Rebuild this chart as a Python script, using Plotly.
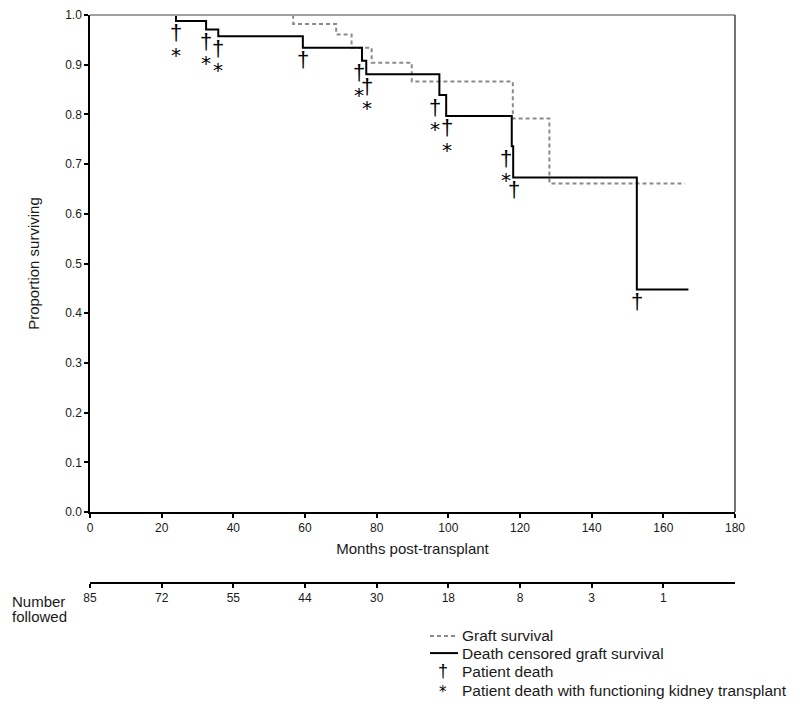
import plotly.graph_objects as go

# ---------------- data ----------------
# Death censored graft survival (solid)
dc_months = [0, 24.0, 32.4, 35.8, 59.4, 75.9, 77.1, 97.5, 99.4, 117.7, 118.1, 152.6, 167.0]
dc_surv = [1.0, 0.988, 0.971, 0.957, 0.934, 0.908, 0.881, 0.839, 0.797, 0.736, 0.673, 0.448, 0.448]

# Graft survival (dashed)
gs_months = [0, 56.7, 68.7, 73.0, 78.6, 89.8, 118.0, 128.2, 166.0]
gs_surv = [1.0, 0.982, 0.961, 0.934, 0.904, 0.866, 0.792, 0.661, 0.661]

# Patient deaths (dagger) and whether with functioning kidney transplant (asterisk)
death_months = [24.1, 32.4, 35.8, 59.4, 75.1, 77.4, 96.4, 99.5, 116.1, 118.2, 152.6]
death_level = [0.988, 0.971, 0.957, 0.934, 0.908, 0.881, 0.839, 0.797, 0.736, 0.673, 0.448]
death_functioning = [True, True, True, False, True, True, True, True, True, False, False]

# Numbers at risk
risk_months = [0, 20, 40, 60, 80, 100, 120, 140, 160]
risk_numbers = ["85", "72", "55", "44", "30", "18", "8", "3", "1"]

x_ticks = [0, 20, 40, 60, 80, 100, 120, 140, 160, 180]
y_ticks = [0.0, 0.1, 0.2, 0.3, 0.4, 0.5, 0.6, 0.7, 0.8, 0.9, 1.0]

legend_labels = ["Graft survival", "Death censored graft survival",
                 "Patient death", "Patient death with functioning kidney transplant"]

# ---------------- layout helpers ----------------
W, H = 800, 709


def fx(px):
    # page pixel -> figure pixel (page body offset)
    return px - 8


def fy(py):
    return (py - 8) / 0.99


ML = round(fx(90))
MR = W - round(fx(735))
MT = round(fy(15))
MB = 0
PW, PH = W - ML - MR, H - MT - MB


def px_x(px):
    return (fx(px) - ML) / PW


def px_y(py):
    return (H - MB - fy(py)) / PH


FONT = "Liberation Sans, Arial, sans-serif"
TXT = "#1a1a1a"

fig = go.Figure()

fig.add_trace(go.Scatter(
    x=gs_months, y=gs_surv, mode="lines", line_shape="hv",
    line=dict(color="#8a8a8a", width=2, dash="4px,3px"),
    showlegend=False, hoverinfo="skip"))

fig.add_trace(go.Scatter(
    x=dc_months, y=dc_surv, mode="lines", line_shape="hv",
    line=dict(color="#000000", width=2),
    showlegend=False, hoverinfo="skip"))

# carrier trace so the "number followed" axis is drawn
fig.add_trace(go.Scatter(
    x=risk_months, y=[None] * len(risk_months), xaxis="x2", yaxis="y",
    mode="markers", showlegend=False, hoverinfo="skip"))

annotations = []
for m, lv, f in zip(death_months, death_level, death_functioning):
    annotations.append(dict(x=m, y=lv, xref="x", yref="y", text="†", showarrow=False,
                            font=dict(family=FONT, size=22, color="#000"),
                            xanchor="center", yanchor="middle", yshift=-12))
    if f:
        annotations.append(dict(x=m, y=lv, xref="x", yref="y", text="*", showarrow=False,
                                font=dict(family="DejaVu Sans", size=20, color="#000"),
                                xanchor="center", yanchor="middle", yshift=-34))

# Number followed label
annotations.append(dict(x=px_x(10), y=px_y(601), xref="paper", yref="paper", text="Number",
                        showarrow=False, xanchor="left", yanchor="middle",
                        font=dict(family=FONT, size=15, color=TXT)))
annotations.append(dict(x=px_x(10), y=px_y(616), xref="paper", yref="paper", text="followed",
                        showarrow=False, xanchor="left", yanchor="middle",
                        font=dict(family=FONT, size=15, color=TXT)))

# Manual legend
leg_y = [635, 653, 671, 690]
for lab, ly in zip(legend_labels, leg_y):
    annotations.append(dict(x=px_x(460), y=px_y(ly), xref="paper", yref="paper", text=lab,
                            showarrow=False, xanchor="left", yanchor="middle",
                            font=dict(family=FONT, size=15.5, color=TXT)))
annotations.append(dict(x=px_x(443), y=px_y(leg_y[2]), xref="paper", yref="paper", text="†",
                        showarrow=False, xanchor="center", yanchor="middle",
                        font=dict(family=FONT, size=18, color="#000")))
annotations.append(dict(x=px_x(443), y=px_y(leg_y[3] + 2), xref="paper", yref="paper", text="*",
                        showarrow=False, xanchor="center", yanchor="middle",
                        font=dict(family="DejaVu Sans", size=15, color="#000")))

shapes = [
    # top frame (gray)
    dict(type="line", xref="x domain", yref="y domain", x0=0, x1=1, y0=1, y1=1,
         line=dict(color="#a0a0a0", width=2)),
    # right frame
    dict(type="line", xref="x domain", yref="y domain", x0=1, x1=1, y0=0, y1=1,
         line=dict(color="#444444", width=1.5)),
    # legend line samples
    dict(type="line", xref="paper", yref="paper", x0=px_x(430), x1=px_x(458),
         y0=px_y(leg_y[0] + 1), y1=px_y(leg_y[0] + 1),
         line=dict(color="#8a8a8a", width=2, dash="4px,3px")),
    dict(type="line", xref="paper", yref="paper", x0=px_x(430), x1=px_x(458),
         y0=px_y(leg_y[1]), y1=px_y(leg_y[1]),
         line=dict(color="#000000", width=2)),
]

fig.update_layout(
    width=W, height=H,
    margin=dict(l=ML, r=MR, t=MT, b=MB),
    paper_bgcolor="white", plot_bgcolor="white",
    font=dict(family=FONT, size=12, color=TXT),
    showlegend=False,
    annotations=annotations,
    shapes=shapes,
    xaxis=dict(
        range=[0, 180], tickvals=x_ticks, ticks="outside", ticklen=4, tickwidth=1.5,
        tickcolor="#000", showline=True, linecolor="#000", linewidth=1.5,
        showgrid=False, zeroline=False, tickfont=dict(size=12, color=TXT),
        title=dict(text="Months post-transplant", font=dict(size=15, color=TXT), standoff=9),
        anchor="y"),
    yaxis=dict(
        range=[0, 1.0], domain=[px_y(512), 1], tickvals=y_ticks, tickformat=".1f",
        ticks="outside", ticklen=4, tickwidth=1.5, tickcolor="#000",
        showline=True, linecolor="#000", linewidth=1.5,
        showgrid=False, zeroline=False, tickfont=dict(size=12, color=TXT),
        title=dict(text="Proportion surviving", font=dict(size=15, color=TXT), standoff=22)),
    xaxis2=dict(
        overlaying="x", anchor="free", position=px_y(582.7), side="bottom",
        range=[0, 180], tickvals=risk_months, ticktext=risk_numbers,
        ticks="outside", ticklen=4, tickwidth=1.5, tickcolor="#000",
        showline=True, linecolor="#000", linewidth=1.5,
        showgrid=False, zeroline=False, tickfont=dict(size=12, color=TXT)),
)

fig.write_html("out.html")
